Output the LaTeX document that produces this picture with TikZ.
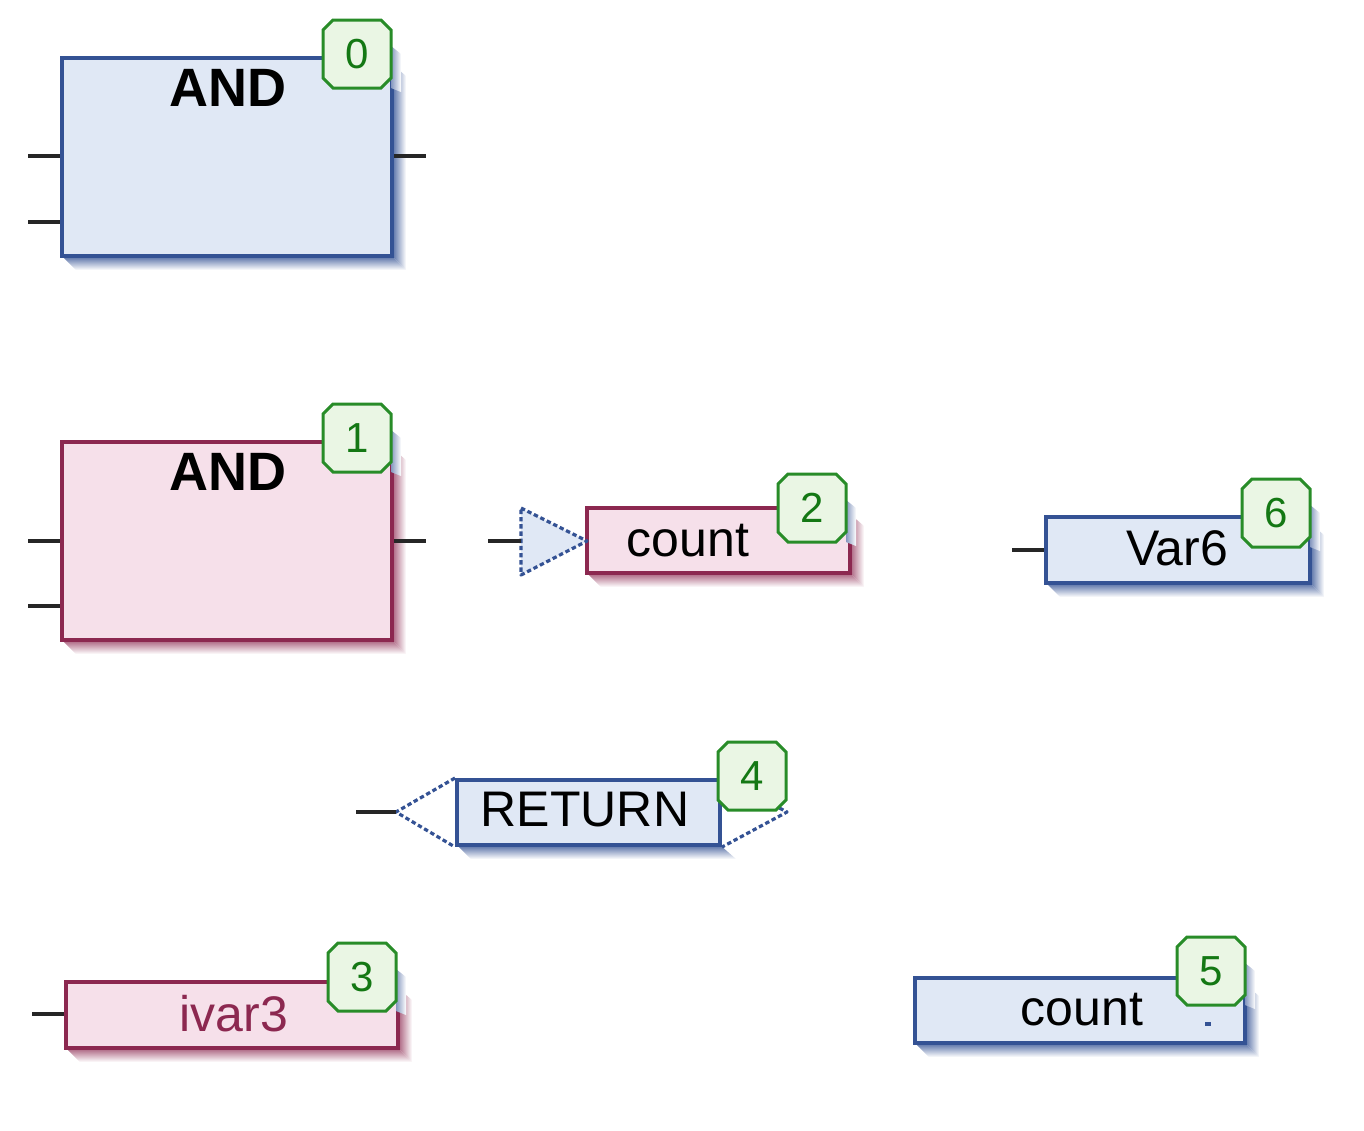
\documentclass[tikz,border=0pt]{standalone}
\usepackage{fontspec}
\setmainfont{Liberation Sans}
\usetikzlibrary{calc,shapes.misc}
\definecolor{bluebd}{RGB}{52,82,148}
\definecolor{bluefill}{RGB}{224,232,245}
\definecolor{pinkbd}{RGB}{140,40,80}
\definecolor{pinkfill}{RGB}{246,224,234}
\definecolor{greenbd}{RGB}{40,140,40}
\definecolor{greenfill}{RGB}{234,246,228}
\definecolor{greentext}{RGB}{20,120,20}
\colorlet{bshd}{bluebd!85!white}
\colorlet{pshd}{pinkbd!75!white}
\colorlet{badgeshd}{bluebd!60!white}
\tikzset{
 fbd/.style={draw, line width=2pt, inner sep=0pt},
 bfill/.style={fbd, draw=bluebd, fill=bluefill},
 pfill/.style={fbd, draw=pinkbd, fill=pinkfill},
 badge/.style={draw=greenbd, fill=greenfill, line width=1.5pt, chamfered rectangle, chamfered rectangle xsep=2.5pt, chamfered rectangle ysep=2.5pt, minimum width=34pt, minimum height=34pt, inner sep=0pt, text=greentext, font=\fontsize{21}{24}\selectfont},
 pinline/.style={line width=1.8pt, black!85},
 lbl/.style={inner sep=0pt, font=\fontsize{25}{30}\selectfont},
 andlbl/.style={inner sep=0pt, font=\fontsize{27}{30}\selectfont\bfseries},
 conn/.style={draw=bluebd, line width=1.6pt, dash pattern=on 2.2pt off 1.4pt, line join=round},
}
\newcommand\fbdbox[6]{%
 \shade[left color=#6shd, right color=white] (#4,#3+6) -- (#4+14,#3+18) -- (#4+14,#5+14) -- (#4,#5) -- cycle;
 \shade[top color=#6shd, bottom color=white] (#2,#5) -- (#2+14,#5+14) -- (#4+14,#5+14) -- (#4,#5) -- cycle;
 \node[#6fill, minimum width={(#4-#2)*0.5pt}, minimum height={(#5-#3)*0.5pt}] (#1) at ({(#2+#4)/2},{(#3+#5)/2}) {};
}
\newcommand\fbdbadge[4]{% name, cx, cy, text
 \shade[left color=badgeshd, right color=white] (#2+34,#3-8) -- (#2+44,#3) -- (#2+44,#3+38) -- (#2+34,#3+34) -- cycle;
 \node[badge] (#1) at (#2,#3) {#4};
}
\begin{document}
\begin{tikzpicture}[x=0.5pt,y=-0.5pt]
\useasboundingbox (0,0) rectangle (1364,1130);
% block 0
\fbdbox{blk0}{62}{58}{392}{256}{b}
\node[andlbl] (t0) at (228,88) {AND};
\coordinate (i0a) at (28,156);
\coordinate (i0b) at (28,222);
\coordinate (o0) at (426,156);
\draw[pinline] (i0a) -- (i0a -| blk0.west);
\draw[pinline] (i0b) -- (i0b -| blk0.west);
\draw[pinline] (o0 -| blk0.east) -- (o0);
\fbdbadge{b0}{357}{54}{0}
% block 1
\fbdbox{blk1}{62}{442}{392}{640}{p}
\node[andlbl] (t1) at (228,472) {AND};
\coordinate (i1a) at (28,541);
\coordinate (i1b) at (28,606);
\coordinate (o1) at (426,541);
\draw[pinline] (i1a) -- (i1a -| blk1.west);
\draw[pinline] (i1b) -- (i1b -| blk1.west);
\draw[pinline] (o1 -| blk1.east) -- (o1);
\fbdbadge{b1}{357}{438}{1}
% connector 2
\fbdbox{blk2}{587}{508}{850}{573}{p}
\coordinate (tri2a) at (521,508);
\coordinate (tri2b) at (587,541);
\coordinate (tri2c) at (521,575);
\draw[conn, fill=bluefill] (tri2a) -- (tri2b) -- (tri2c) -- cycle;
\node[lbl] (t2) at (688,541) {count};
\coordinate (i2) at (488,541);
\draw[pinline] (i2) -- (tri2a |- i2);
\fbdbadge{b2}{812}{508}{2}
% Var6
\fbdbox{blk6}{1046}{517}{1310}{583}{b}
\node[lbl] (t6) at (1177,548) {Var6};
\coordinate (i6) at (1012,550);
\draw[pinline] (i6) -- (i6 -| blk6.west);
\fbdbadge{b6}{1276}{513}{6}
% RETURN
\shade[top color=bshd, bottom color=white] (457,845) -- (471,859) -- (736,859) -- (720,845) -- cycle;
\node[bfill, minimum width={263*0.5pt}, minimum height={65*0.5pt}] (blk4) at (588.5,812.5) {};
\coordinate (r4tip) at (396,812);
\coordinate (r4tail) at (787,812);
\draw[conn] (blk4.north west) -- (r4tip) -- (blk4.south west);
\draw[conn] (blk4.north east) -- (r4tail) -- (blk4.south east);
\node[lbl] (t4) at (585,810) {RETURN};
\coordinate (i4) at (356,812);
\draw[pinline] (i4) -- (r4tip);
\node[badge] (b4) at (752,776) {4};
% ivar3
\fbdbox{blk3}{66}{982}{398}{1048}{p}
\node[lbl, text=pinkbd] (t3) at (234,1014) {ivar3};
\coordinate (i3) at (32,1014);
\draw[pinline] (i3) -- (i3 -| blk3.west);
\fbdbadge{b3}{362}{977}{3}
% count 5
\fbdbox{blk5}{915}{978}{1245}{1043}{b}
\node[lbl] (t5) at (1082,1010) {count};
\fill[bluebd] (1205,1022) rectangle (1211,1026);
\fbdbadge{b5}{1211}{971}{5}
\end{tikzpicture}
\end{document}
